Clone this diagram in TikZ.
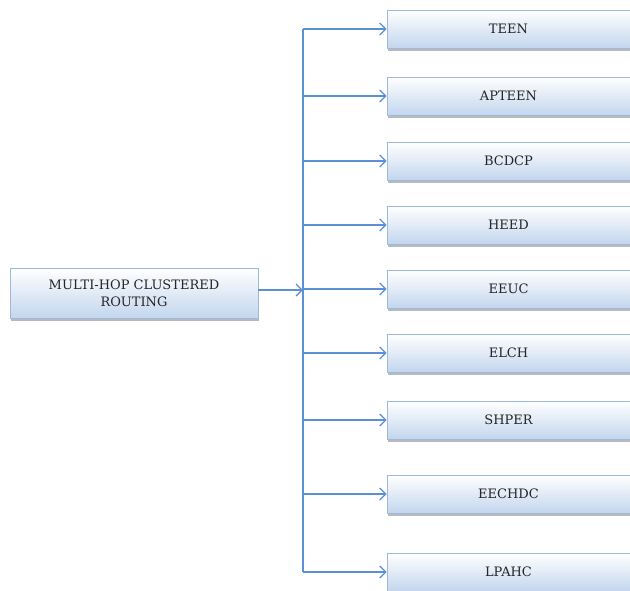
\documentclass[tikz,border=0pt]{standalone}
\usepackage{fontspec}
\setmainfont{DejaVu Serif}
\usepackage{tikz}
\usetikzlibrary{
	arrows.meta,
	positioning,
	shadows
}
\definecolor{boxline}{HTML}{9DB9DE}
\definecolor{boxfill}{HTML}{C3D6EE}
\definecolor{linkblue}{HTML}{5B8FD6}

\begin{document}
\begin{tikzpicture}[
    x=1pt, y=-1pt,
    block/.style={rectangle, draw=boxline, line width=0.8pt, top color=white, bottom color=boxfill, align=center, minimum width=248pt, minimum height=50pt, font=\fontsize{13}{17}\selectfont, text=black!85, drop shadow={shadow xshift=1pt, shadow yshift=-2.5pt, fill=black!45, opacity=0.6}},
    smallblock/.style={rectangle, draw=boxline, line width=0.8pt, top color=white, bottom color=boxfill, align=center, minimum width=243pt, minimum height=38pt, font=\fontsize{13}{17}\selectfont, text=black!85, drop shadow={shadow xshift=1pt, shadow yshift=-2.5pt, fill=black!45, opacity=0.6}},
    arrow/.style={-{Straight Barb[length=6pt, width=12pt, line width=1.3pt]}, draw=linkblue, line width=1.3pt}
]
\useasboundingbox (0,0) rectangle (630,590);

\node[block] (routing) at (134,293) {MULTI-HOP CLUSTERED\\ROUTING};
\coordinate (split) at (303,290);

\node[smallblock] (teen) at (508.5,29) {TEEN};
\node[smallblock] (apteen) at (508.5,96) {APTEEN};
\node[smallblock] (bcdcp) at (508.5,161) {BCDCP};
\node[smallblock] (heed) at (508.5,225) {HEED};
\node[smallblock] (eeuc) at (508.5,289) {EEUC};
\node[smallblock] (elch) at (508.5,353) {ELCH};
\node[smallblock] (shper) at (508.5,420) {SHPER};
\node[smallblock] (eechdc) at (508.5,494) {EECHDC};
\node[smallblock] (lpahc) at (508.5,572) {LPAHC};

\draw[arrow] (routing.east |- split) -- (split);
\draw[linkblue, line width=1.3pt] (split |- teen.west) -- (split |- lpahc.west);
\draw[arrow] (split |- teen.west) -- (teen.west);
\draw[arrow] (split |- apteen.west) -- (apteen.west);
\draw[arrow] (split |- bcdcp.west) -- (bcdcp.west);
\draw[arrow] (split |- heed.west) -- (heed.west);
\draw[arrow] (split |- eeuc.west) -- (eeuc.west);
\draw[arrow] (split |- elch.west) -- (elch.west);
\draw[arrow] (split |- shper.west) -- (shper.west);
\draw[arrow] (split |- eechdc.west) -- (eechdc.west);
\draw[arrow] (split |- lpahc.west) -- (lpahc.west);
\end{tikzpicture}
\end{document}
